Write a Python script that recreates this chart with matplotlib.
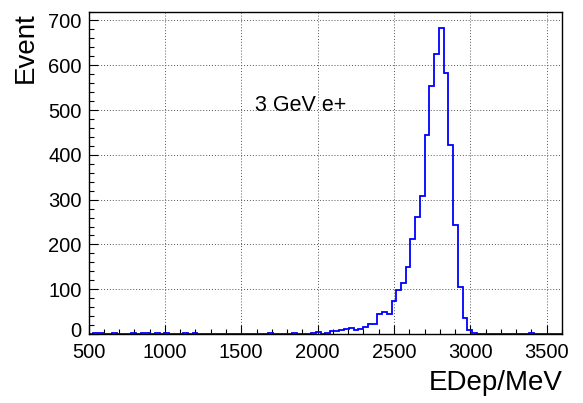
import numpy as np
import matplotlib.pyplot as plt
import matplotlib.transforms as mtransforms

plt.rcParams["font.family"] = ["Liberation Sans", "DejaVu Sans"]

# histogram: 100 bins from 500 to 3600 MeV
x_min, x_max, n_bins = 500, 3600, 100
counts = [
    1, 2, 2, 1, 0, 2, 1, 0, 0, 2,
    1, 2, 2, 1, 2, 1, 2, 0, 0, 0,
    2, 1, 2, 0, 0, 1, 0, 0, 0, 0,
    0, 1, 0, 0, 0, 0, 0, 0, 3, 0,
    0, 0, 0, 2, 1, 0, 1, 3, 5, 0,
    2, 7, 7, 9, 11, 14, 9, 11, 15, 22,
    22, 44, 49, 44, 74, 98, 113, 149, 212, 262,
    307, 445, 553, 626, 684, 582, 423, 243, 105, 36,
    9, 2, 1, 0, 0, 0, 0, 0, 0, 0,
    0, 0, 0, 2, 0, 0, 0, 0, 0, 0,
]
x_title = "EDep/MeV"
y_title = "Event"
label = "3 GeV e+"

W, H = 583, 403
fig = plt.figure(figsize=(W / 100, H / 100), dpi=100)
fig.patch.set_facecolor("white")
ax = fig.add_axes([88.5 / W, 1 - 334 / H, (562 - 88.5) / W, (334 - 11.5) / H])

edges = np.linspace(x_min, x_max, n_bins + 1)
ax.stairs(counts, edges, color="#0000ff", lw=1.3, baseline=0)

ax.set_xlim(x_min, x_max)
ax.set_ylim(0, max(counts) * 1.05)

ax.set_xticks(np.arange(500, 3501, 500))
ax.set_xticks(np.arange(500, 3601, 100), minor=True)
ax.set_yticks(np.arange(0, 701, 100))
ax.set_yticks(np.arange(0, 721, 20), minor=True)

ax.tick_params(which="both", direction="in", top=False, right=False,
               labelsize=14.5, width=0.8)
ax.tick_params(axis="x", pad=6.5)
ax.tick_params(axis="y", pad=5)
ax.tick_params(which="major", length=6.5)
ax.tick_params(which="minor", length=3.3)

# ROOT lifts the "0" label a little so it clears the x labels
lift = mtransforms.ScaledTranslation(0, 3 / 72, fig.dpi_scale_trans)
zero_lbl = ax.get_yticklabels()[0]
zero_lbl.set_transform(zero_lbl.get_transform() + lift)

ax.grid(True, which="major", color="#555555", linestyle=(0, (1, 2)), lw=0.7)
ax.set_axisbelow(True)
for s in ax.spines.values():
    s.set_linewidth(1.0)
    s.set_color("black")

ax.text(0.352, 0.71, label, transform=ax.transAxes, ha="left", va="center",
        fontsize=15.5)

fig.text(563 / W, 1 - 390 / H, x_title, ha="right", va="baseline", fontsize=20)
fig.text(33 / W, 1 - 12 / H, y_title, ha="right", va="baseline", fontsize=20,
         rotation=90, rotation_mode="anchor")

fig.savefig("out.png", dpi=100)
